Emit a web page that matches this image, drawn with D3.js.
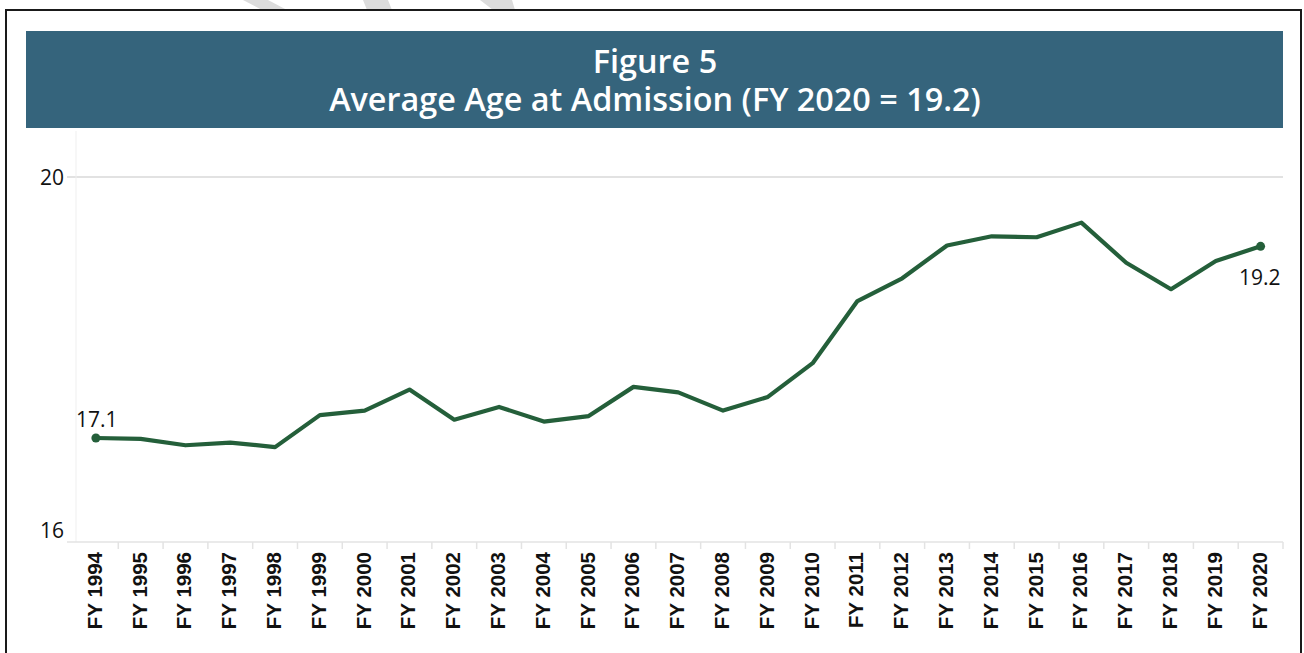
<!DOCTYPE html>
<html><head><meta charset="utf-8">
<script src="https://cdn.jsdelivr.net/npm/d3@7"></script>
<style>
html,body{margin:0;padding:0;background:#fff;}
svg{display:block;}
</style></head>
<body>
<svg id="chart" width="1304" height="653"></svg>
<script>
// ---- data ----
const categories = ["FY 1994","FY 1995","FY 1996","FY 1997","FY 1998","FY 1999","FY 2000","FY 2001","FY 2002","FY 2003","FY 2004","FY 2005","FY 2006","FY 2007","FY 2008","FY 2009","FY 2010","FY 2011","FY 2012","FY 2013","FY 2014","FY 2015","FY 2016","FY 2017","FY 2018","FY 2019","FY 2020"];
const avgAge = [17.14,17.13,17.06,17.09,17.04,17.39,17.44,17.67,17.34,17.48,17.32,17.38,17.70,17.64,17.44,17.59,17.96,18.64,18.89,19.25,19.35,19.34,19.50,19.06,18.77,19.08,19.24];
const yTicks = [16, 20];
const titleLines = ["Figure 5", "Average Age at Admission (FY 2020 = 19.2)"];
const endLabels = ["17.1", "19.2"];

const svg = d3.select("#chart");

// watermark remnants at top
const wm = [
  [[243,0],[268,0],[287,10],[262,10]],
  [[363,0],[388,0],[392,10],[367,10]],
  [[480,0],[512,0],[515,10],[493,10]]
];
svg.selectAll("polygon.wm").data(wm).join("polygon")
  .attr("class","wm")
  .attr("points", d => d.map(p => p.join(",")).join(" "))
  .attr("fill","#dcdcdc");

// outer frame
svg.append("path")
  .attr("d","M6,660 L6,10 L1301,10 L1301,660")
  .attr("fill","none").attr("stroke","#1a1a1a").attr("stroke-width",2);

// title banner
svg.append("rect").attr("x",26).attr("y",31).attr("width",1257).attr("height",97).attr("fill","#35647c");
const t1 = svg.append("text").attr("x",655).attr("y",73).attr("text-anchor","middle")
  .attr("fill","#fff").style("font-family","'Open Sans'").style("font-weight","600").style("font-size","32px").text(titleLines[0]);
const t2 = svg.append("text").attr("x",655).attr("y",111).attr("text-anchor","middle")
  .attr("fill","#fff").style("font-family","'Open Sans'").style("font-weight","600").style("font-size","32px").text(titleLines[1]);
// fit second line width to ~652px
const w2 = t2.node().getComputedTextLength();
const fs = 32 * 652 / w2;
t1.style("font-size", fs + "px");
t2.style("font-size", fs + "px");

// scales
const x = d3.scaleBand().domain(categories).range([73.5, 1283]).padding(0);
const y = d3.scaleLinear().domain([16, 20]).range([542, 177]);
const cx = d => x(d) + x.bandwidth()/2;

// gridline at 20
svg.append("g").selectAll("line").data(yTicks.filter(v => v !== 16)).join("line")
  .attr("x1",67).attr("x2",1283).attr("y1",d=>y(d)).attr("y2",d=>y(d))
  .attr("stroke","#d9d9d9").attr("stroke-width",1.5);

// left pane line
svg.append("line").attr("x1",76).attr("x2",76).attr("y1",131).attr("y2",542)
  .attr("stroke","#efefef").attr("stroke-width",1);

// baseline axis
svg.append("line").attr("x1",67).attr("x2",1283).attr("y1",y(16)).attr("y2",y(16))
  .attr("stroke","#e3e3e3").attr("stroke-width",1.5);

// category separators
const bounds = categories.slice(1).map(c => x(c)).concat([x.range()[1]]);
svg.append("g").selectAll("line").data(bounds).join("line")
  .attr("x1",d=>d).attr("x2",d=>d).attr("y1",y(16)).attr("y2",y(16)+7)
  .attr("stroke","#e3e3e3").attr("stroke-width",1.5);

// y axis
const yAxis = svg.append("g").attr("transform","translate(66,0)")
  .call(d3.axisLeft(y).tickValues(yTicks).tickSize(0).tickPadding(2).tickFormat(d3.format("d")));
yAxis.select(".domain").remove();
yAxis.selectAll("text").style("font-family","'Open Sans'").style("font-weight","500").style("font-size","21px").attr("fill","#111")
  .attr("dy", d => d === 16 ? "-0.22em" : "0.34em");

// x axis
const xAxis = svg.append("g").attr("transform",`translate(0,${y(16)})`)
  .call(d3.axisBottom(x).tickSize(0));
xAxis.select(".domain").remove();
xAxis.selectAll(".tick text")
  .attr("transform","translate(6,10) rotate(-90)")
  .attr("x",0).attr("y",0).attr("dy",0)
  .attr("text-anchor","end")
  .style("font-family","'Liberation Sans', Arial, sans-serif")
  .style("font-size","20.5px").style("font-weight","bold").attr("fill","#111");

// line
const line = d3.line().x((d,i)=>cx(categories[i])).y(d=>y(d));
svg.append("path").datum(avgAge).attr("d",line)
  .attr("fill","none").attr("stroke","#245f3a").attr("stroke-width",4.2)
  .attr("stroke-linejoin","round");

// end points
const ends = [0, avgAge.length-1];
svg.append("g").selectAll("circle").data(ends).join("circle")
  .attr("cx",i=>cx(categories[i])).attr("cy",i=>y(avgAge[i])).attr("r",4.5).attr("fill","#245f3a");

// end labels
svg.append("text").attr("x",cx(categories[0]) - 20).attr("y",y(avgAge[0]) - 10.5)
  .style("font-family","'Open Sans'").style("font-weight","500").style("font-size","21px").attr("fill","#111").text(endLabels[0]);
svg.append("text").attr("x",cx(categories[categories.length-1]) + 20).attr("y",y(avgAge[avgAge.length-1]) + 39)
  .attr("text-anchor","end")
  .style("font-family","'Open Sans'").style("font-weight","500").style("font-size","21px").attr("fill","#111").text(endLabels[1]);
</script>
</body></html>
